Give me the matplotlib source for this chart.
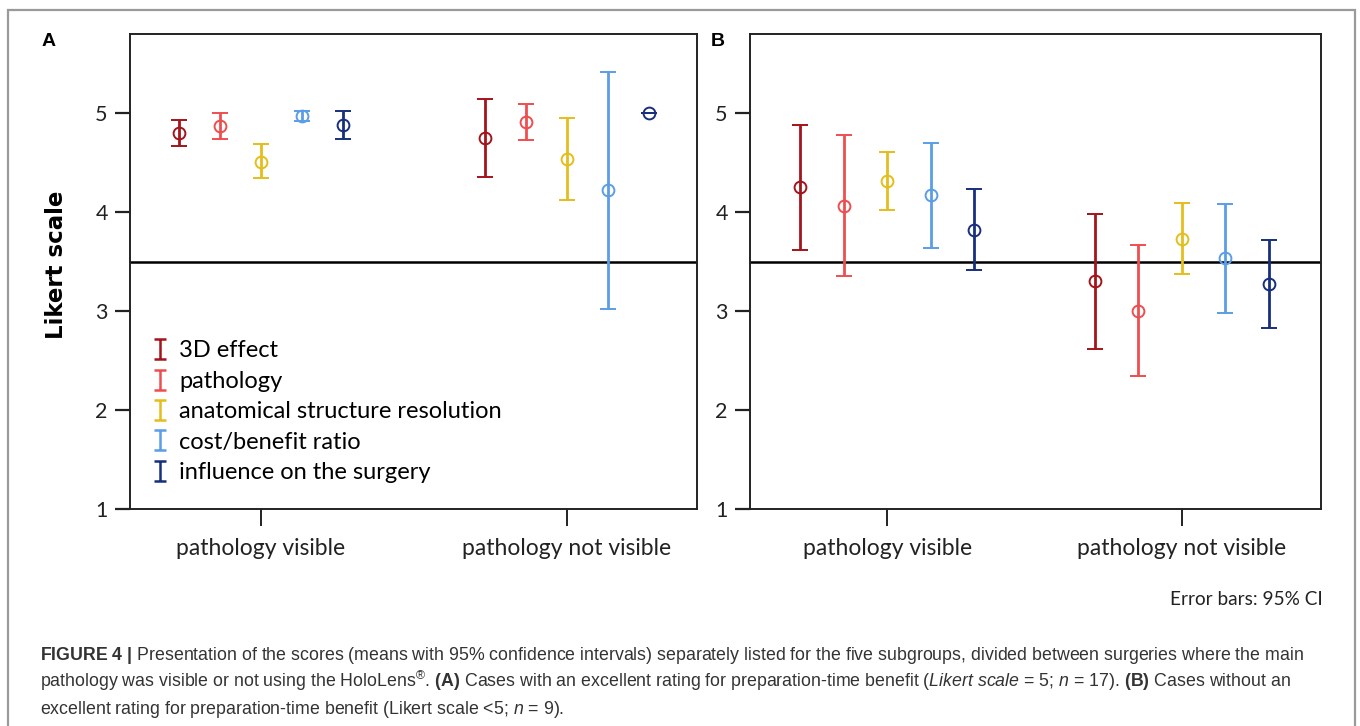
import numpy as np
import matplotlib
matplotlib.use('Agg')
import matplotlib.pyplot as plt
from matplotlib.lines import Line2D
from matplotlib.path import Path
from matplotlib.patches import Rectangle

# Dados (medias e IC 95%)
series = ['3D effect', 'pathology', 'anatomical structure resolution',
          'cost/benefit ratio', 'influence on the surgery']
grupos = ['pathology visible', 'pathology not visible']
cores = ['#a3141b', '#ee4e50', '#e5bd1c', '#5b9de6', '#172f7c']

# Painel A: [visible, not visible] para cada serie
A_media = [[4.80, 4.75], [4.87, 4.91], [4.51, 4.54], [4.97, 4.22], [4.88, 5.00]]
A_inf = [[4.67, 4.35], [4.74, 4.73], [4.34, 4.12], [4.92, 3.02], [4.74, 5.00]]
A_sup = [[4.93, 5.14], [5.00, 5.09], [4.69, 4.95], [5.02, 5.42], [5.02, 5.00]]

# Painel B
B_media = [[4.25, 3.30], [4.06, 3.00], [4.31, 3.73], [4.17, 3.54], [3.82, 3.27]]
B_inf = [[3.62, 2.62], [3.35, 2.34], [4.02, 3.37], [3.64, 2.98], [3.42, 2.83]]
B_sup = [[4.88, 3.98], [4.78, 3.67], [4.61, 4.09], [4.70, 4.08], [4.23, 3.72]]

linha_ref = 3.5
yticks = [1, 2, 3, 4, 5]

fonte = ['Lato', 'DejaVu Sans']
plt.rcParams['font.family'] = fonte
plt.rcParams['mathtext.fontset'] = 'custom'
plt.rcParams['mathtext.rm'] = 'Liberation Sans'
plt.rcParams['mathtext.it'] = 'Liberation Sans:italic'
plt.rcParams['mathtext.bf'] = 'Liberation Sans:bold'

fig = plt.figure(figsize=(13.6, 7.26), dpi=100)
W, H = 1360, 726


def eixo(x0, x1, y0, y1):
    return fig.add_axes([x0 / W, 1 - y1 / H, (x1 - x0) / W, (y1 - y0) / H])


def painel(ax, media, inf, sup, xlim, passo):
    for i, (m, lo, hi) in enumerate(zip(media, inf, sup)):
        x = np.arange(len(grupos)) + (i - 2) * passo
        m = np.array(m)
        err = [m - np.array(lo), np.array(hi) - m]
        ax.errorbar(x, m, yerr=err, fmt='o', color=cores[i], mfc='none',
                    mec=cores[i], ms=8.5, mew=1.4, elinewidth=2.0,
                    capsize=6, capthick=2.0, zorder=3)
    ax.axhline(linha_ref, color='black', lw=1.8, zorder=2)
    ax.set_xlim(*xlim)
    ax.set_ylim(1, 5.8)
    ax.set_yticks(yticks)
    ax.set_xticks(range(len(grupos)))
    ax.set_xticklabels(grupos)
    ax.tick_params(axis='y', direction='out', length=11, width=1.6, pad=5,
                   labelsize=15.5, colors='#222222')
    ax.tick_params(axis='x', direction='out', length=12, width=1.4, pad=9,
                   labelsize=16.5, colors='#222222')
    for sp in ax.spines.values():
        sp.set_linewidth(1.4)
        sp.set_color('#222222')


axA = eixo(130, 697, 34, 509)
painel(axA, A_media, A_inf, A_sup, (-0.428, 1.425), 0.134)
axB = eixo(750, 1321, 34, 509)
painel(axB, B_media, B_inf, B_sup, (-0.466, 1.473), 0.148)

# legenda com simbolo de barra de erro
simbolo = Path([(-0.6, 1), (0.6, 1), (0, 1), (0, -1), (-0.6, -1), (0.6, -1)],
               [Path.MOVETO, Path.LINETO, Path.MOVETO, Path.LINETO,
                Path.MOVETO, Path.LINETO])
handles = [Line2D([], [], color=c, marker=simbolo, linestyle='none', ms=14,
                  mew=1.8, mfc='none') for c in cores]
axA.legend(handles, series, loc='upper left', bbox_to_anchor=(0.02, 0.375),
           frameon=False, fontsize=17, handlelength=0.8, handletextpad=0.4,
           labelspacing=0.4, borderaxespad=0)

fig.text(57 / W, 1 - 265 / H, 'Likert scale', rotation=90, ha='center',
         va='center', fontsize=16.5, fontweight='bold', family='DejaVu Sans')
fig.text(42 / W, 1 - 46 / H, 'A', fontsize=14, fontweight='bold',
         family='Liberation Sans')
fig.text(711 / W, 1 - 46 / H, 'B', fontsize=14, fontweight='bold',
         family='Liberation Sans')
fig.text(1323 / W, 1 - 605 / H, 'Error bars: 95% CI', ha='right',
         va='baseline', fontsize=13.7, color='#222222')

# moldura externa
fig.patches.append(Rectangle((8 / W, -0.05), 1347 / W, 1 - 10 / H + 0.05,
                             transform=fig.transFigure, fill=False,
                             edgecolor='#9a9a9a', lw=1.6))

legenda = [
    r'$\mathbf{FIGURE\ 4\ |}$ Presentation of the scores (means with 95% confidence intervals) '
    r'separately listed for the five subgroups, divided between surgeries where the main',
    r'pathology was visible or not using the HoloLens$^{\circledR}$. $\mathbf{(A)}$ Cases with an '
    r'excellent rating for preparation-time benefit ($\mathit{Likert\ scale}$ = 5; $\mathit{n}$ = 17). '
    r'$\mathbf{(B)}$ Cases without an',
    r'excellent rating for preparation-time benefit (Likert scale <5; $\mathit{n}$ = 9).',
]
for k, txt in enumerate(legenda):
    fig.text(40 / W, 1 - (660 + 27 * k) / H, txt, ha='left', va='baseline',
             fontsize=12.75, color='#333333', family='Liberation Sans')

fig.savefig('out.png', dpi=100)
